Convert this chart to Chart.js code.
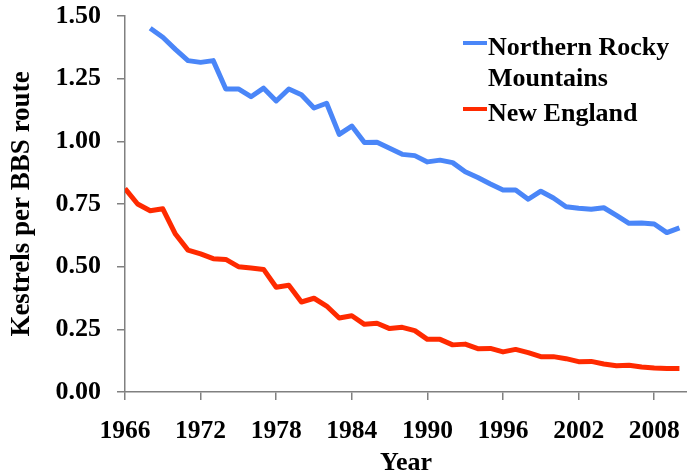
<!DOCTYPE html>
<html>
<head>
<meta charset="utf-8">
<script src="https://cdn.jsdelivr.net/npm/chart.js@4.4.0/dist/chart.umd.min.js"></script>
<style>
  html, body { margin: 0; padding: 0; background: #fff; }
  #wrap { width: 687px; height: 473px; }
</style>
</head>
<body>
<div id="wrap"><canvas id="kestrelChart" width="687" height="473"></canvas></div>
<script>
// kestrel counts per BBS route
const years = [];
for (let y = 1966; y <= 2010; y++) years.push(y);

const rockyYears = years.slice(2); // series starts in 1968
const rockyValues = [
    1.451, 1.415, 1.367, 1.322, 1.315, 1.322, 1.209, 1.209, 1.178, 1.212,
    1.161, 1.209, 1.186, 1.133, 1.152, 1.028, 1.061, 0.995, 0.996, 0.972,
    0.948, 0.943, 0.918, 0.925, 0.915, 0.879, 0.856, 0.830, 0.806, 0.806,
    0.769, 0.801, 0.774, 0.739, 0.733, 0.729, 0.735, 0.705, 0.673, 0.674,
    0.670, 0.636, 0.655
];

const englandValues = [
    0.812, 0.750, 0.723, 0.731, 0.630, 0.566, 0.551, 0.532, 0.529, 0.500,
    0.495, 0.489, 0.418, 0.426, 0.359, 0.374, 0.343, 0.295, 0.304, 0.270,
    0.274, 0.253, 0.258, 0.245, 0.210, 0.210, 0.188, 0.191, 0.173, 0.174,
    0.160, 0.170, 0.157, 0.141, 0.141, 0.133, 0.121, 0.122, 0.112, 0.105,
    0.107, 0.100, 0.096, 0.094, 0.094
];

const xTicks = [1966, 1972, 1978, 1984, 1990, 1996, 2002, 2008];
const legendLines = [['Northern Rocky', 'Mountains'], ['New England']];

const font = 'Liberation Serif';

const rockyData = rockyYears.map((y, i) => ({x: y, y: rockyValues[i]}));
const englandData = years.map((y, i) => ({x: y, y: englandValues[i]}));

const legendPlugin = {
    id: 'sideLegend',
    afterDraw(chart) {
        const ctx = chart.ctx;
        const rows = [{y: 43, text: [55, 86]}, {y: 109, text: [121]}];
        ctx.save();
        ctx.font = 'bold 26px "' + font + '"';
        ctx.fillStyle = '#000';
        ctx.textBaseline = 'alphabetic';
        ctx.textAlign = 'left';
        chart.data.datasets.forEach((ds, i) => {
            ctx.strokeStyle = ds.borderColor;
            ctx.lineWidth = 4;
            ctx.beginPath();
            ctx.moveTo(463, rows[i].y);
            ctx.lineTo(487, rows[i].y);
            ctx.stroke();
            legendLines[i].forEach((t, j) => ctx.fillText(t, 488, rows[i].text[j]));
        });
        ctx.restore();
    }
};

new Chart(document.getElementById('kestrelChart'), {
    type: 'line',
    data: {
        datasets: [{
            label: legendLines[0].join(' '),
            data: rockyData,
            borderColor: '#4a86f8',
            borderWidth: 5,
            pointRadius: 0,
            tension: 0,
            borderJoinStyle: 'round',
            fill: false
        }, {
            label: legendLines[1].join(' '),
            data: englandData,
            borderColor: '#ff2a00',
            borderWidth: 5,
            pointRadius: 0,
            tension: 0,
            borderJoinStyle: 'round',
            fill: false
        }]
    },
    plugins: [legendPlugin],
    options: {
        responsive: false,
        animation: false,
        layout: { padding: { top: 16, right: 0, left: 0, bottom: 0 } },
        plugins: {
            legend: { display: false },
            tooltip: { enabled: false }
        },
        scales: {
            x: {
                type: 'linear',
                min: 1966,
                max: 2010.6,
                afterBuildTicks: s => { s.ticks = xTicks.map(v => ({value: v})); },
                afterFit: s => { s.height = 81; s.paddingLeft = 0; s.paddingRight = 0; },
                ticks: {
                    callback: v => String(v),
                    color: '#000',
                    font: { family: font, size: 25.5, weight: 'bold' },
                    padding: 16,
                    maxRotation: 0,
                    autoSkip: false
                },
                grid: { drawOnChartArea: false, tickLength: 8, color: '#808080', lineWidth: 1.5 },
                border: { color: '#808080', width: 1.5 },
                title: {
                    display: true,
                    text: 'Year',
                    color: '#000',
                    font: { family: font, size: 26, weight: 'bold', lineHeight: 1 },
                    padding: { top: 0, bottom: -3 }
                }
            },
            y: {
                min: 0,
                max: 1.5,
                afterFit: s => { s.width = 125; s.paddingTop = 0; s.paddingBottom = 0; },
                ticks: {
                    stepSize: 0.25,
                    callback: v => v.toFixed(2),
                    color: '#000',
                    font: { family: font, size: 26, weight: 'bold' },
                    padding: 16
                },
                grid: { drawOnChartArea: false, tickLength: 8, color: '#808080', lineWidth: 1.5 },
                border: { color: '#808080', width: 1.5 },
                title: {
                    display: true,
                    text: 'Kestrels per BBS route',
                    color: '#000',
                    font: { family: font, size: 27, weight: 'bold', lineHeight: 1 },
                    padding: { top: 9, bottom: 8 }
                }
            }
        }
    }
});
</script>
</body>
</html>
